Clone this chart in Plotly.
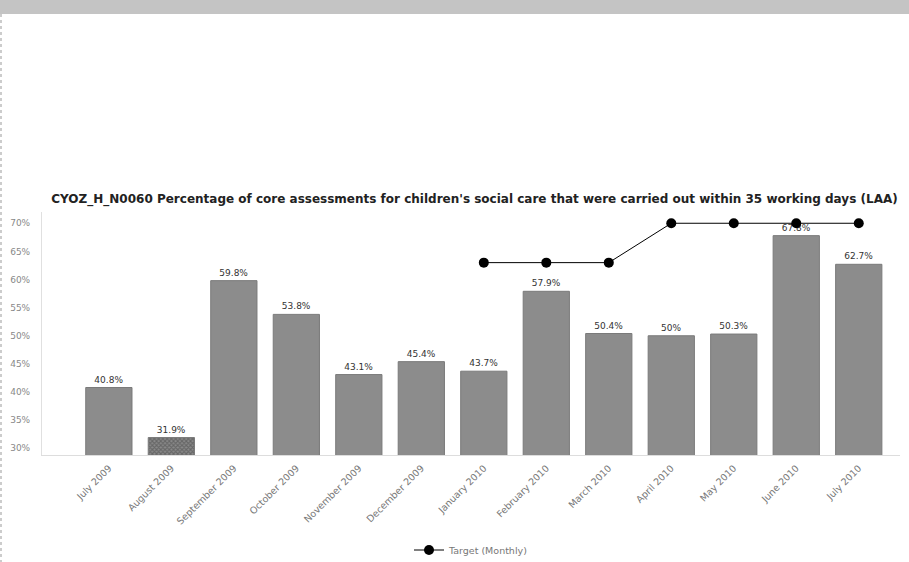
import plotly.graph_objects as go

months = ["July 2009", "August 2009", "September 2009", "October 2009",
          "November 2009", "December 2009", "January 2010", "February 2010",
          "March 2010", "April 2010", "May 2010", "June 2010", "July 2010"]
values = [40.8, 31.9, 59.8, 53.8, 43.1, 45.4, 43.7, 57.9, 50.4, 50.0, 50.3, 67.8, 62.7]
value_labels = ["40.8%", "31.9%", "59.8%", "53.8%", "43.1%", "45.4%", "43.7%",
                "57.9%", "50.4%", "50%", "50.3%", "67.8%", "62.7%"]
target_months = ["January 2010", "February 2010", "March 2010", "April 2010",
                 "May 2010", "June 2010", "July 2010"]
target_values = [63, 63, 63, 70, 70, 70, 70]
y_ticks = [30, 35, 40, 45, 50, 55, 60, 65, 70]
y_tick_labels = ["30%", "35%", "40%", "45%", "50%", "55%", "60%", "65%", "70%"]

bar_colors = ["#8c8c8c"] * len(months)
bar_colors[1] = "#8a8a8a"
patterns = [""] * len(months)
patterns[1] = "x"

fig = go.Figure()
fig.add_trace(go.Bar(
    x=months, y=values, text=value_labels, textposition="outside",
    textfont=dict(family="DejaVu Sans", size=9, color="#333333"),
    cliponaxis=False,
    marker=dict(color=bar_colors, line=dict(color="#7a7a7a", width=1),
                pattern=dict(shape=patterns, size=3, solidity=0.6, fgcolor="#222222")),
    width=0.74, showlegend=False, name="Value",
))
fig.add_trace(go.Scatter(
    x=target_months, y=target_values, mode="lines+markers",
    line=dict(color="#000000", width=1),
    marker=dict(color="#000000", size=10, symbol="circle"),
    name="Target (Monthly)", cliponaxis=False,
))

PH = 243.0
PW = 858.0
fig.update_layout(
    width=909, height=562,
    margin=dict(l=42, r=9, t=212, b=107, autoexpand=False),
    paper_bgcolor="white", plot_bgcolor="white",
    title=dict(text="<b>CYOZ_H_N0060 Percentage of core assessments for children's social care that were carried out within 35 working days (LAA)</b>",
               font=dict(family="DejaVu Sans", size=12, color="#222222"),
               x=0.522, xanchor="center", y=1 - 199 / 562, yanchor="middle"),
    xaxis=dict(type="category", range=[-1.07, 12.66], tickangle=-45,
               tickfont=dict(family="DejaVu Sans", size=9.5, color="#777777"),
               showline=True, linecolor="#dddddd", showgrid=False,
               ticks="outside", ticklen=3, tickcolor="rgba(0,0,0,0)",
               automargin=False),
    yaxis=dict(range=[28.8, 72], tickvals=y_ticks, ticktext=y_tick_labels,
               tickfont=dict(family="DejaVu Sans", size=9, color="#888888"),
               showline=True, linecolor="#e0e0e0", showgrid=False, zeroline=False,
               ticks="outside", ticklen=9, tickcolor="rgba(0,0,0,0)",
               automargin=False),
    legend=dict(orientation="h", x=0.5, xanchor="center",
                y=-(550 - 455) / PH, yanchor="middle",
                font=dict(family="DejaVu Sans", size=9.5, color="#777777")),
)

# browser-like header band and dotted left border
fig.add_shape(type="rect", xref="paper", yref="paper", x0=-42 / PW, x1=1 + 9 / PW,
              y0=1 + (212 - 14) / PH, y1=1 + 212 / PH,
              fillcolor="#c4c4c4", line=dict(width=0), layer="below")
fig.add_shape(type="line", xref="paper", yref="paper", x0=-41 / PW, x1=-41 / PW,
              y0=1 + (212 - 14) / PH, y1=-107 / PH,
              line=dict(color="#999999", width=1, dash="dot"))

fig.write_html("out.html")
